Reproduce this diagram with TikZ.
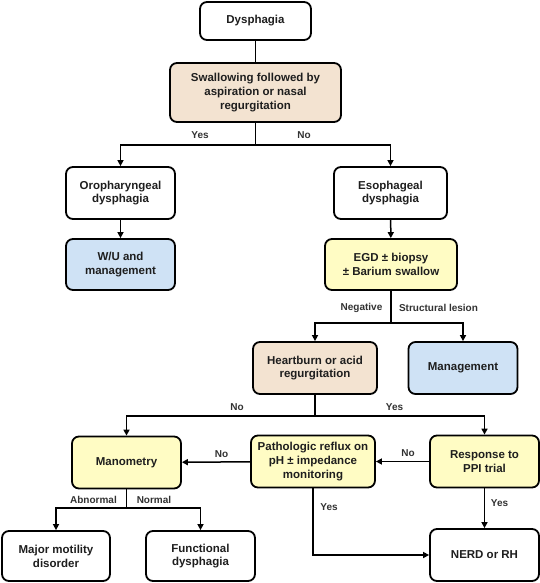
\documentclass[tikz,border=0pt]{standalone}
\usepackage{fontspec}
\setmainfont{Liberation Sans}
\usetikzlibrary{arrows.meta}
\definecolor{beige}{RGB}{243,227,209}
\definecolor{lblue}{RGB}{207,226,245}
\definecolor{lyellow}{RGB}{255,252,196}
\definecolor{txt}{RGB}{30,30,30}
\definecolor{lbl}{RGB}{50,50,50}
\tikzset{
  box/.style={draw=black, line width=1.8pt, rounded corners=7pt, align=center,
    text=txt, inner sep=0pt, font=\bfseries\fontsize{11.5}{13.8}\selectfont},
  conn/.style={line width=1.5pt, draw=black},
  arr/.style={conn, -{Triangle[length=6pt,width=6pt]}},
  lab/.style={text=lbl, inner sep=0pt, font=\bfseries\fontsize{10}{12}\selectfont}
}
\begin{document}
\begin{tikzpicture}[x=1pt,y=-1pt]
\useasboundingbox (0,0) rectangle (540,583);
% nodes
\node[box, fill=white, minimum width=111pt, minimum height=38pt] (dys) at (255.5,21) {Dysphagia};
\node[box, fill=beige, minimum width=171pt, minimum height=59pt] (swal) at (255.5,92.5) {Swallowing followed by\\aspiration or nasal\\regurgitation};
\node[box, fill=white, minimum width=109pt, minimum height=52pt] (oro) at (120.5,193) {Oropharyngeal\\dysphagia};
\node[box, fill=lblue, minimum width=109pt, minimum height=51pt] (wu) at (120.5,264.5) {W/U and\\management};
\node[box, fill=white, minimum width=113pt, minimum height=52pt] (eso) at (390.5,193) {Esophageal\\dysphagia};
\node[box, fill=lyellow, minimum width=132pt, minimum height=51pt] (egd) at (391,264.5) {EGD ± biopsy\\± Barium swallow};
\node[box, fill=beige, minimum width=124pt, minimum height=52pt] (heart) at (315,368) {Heartburn or acid\\regurgitation};
\node[box, fill=lblue, minimum width=109pt, minimum height=52pt] (mgmt) at (463,368) {Management};
\node[box, fill=lyellow, minimum width=109pt, minimum height=52pt] (mano) at (126.5,462.5) {Manometry};
\node[box, fill=lyellow, minimum width=124pt, minimum height=52pt] (path) at (313,461.5) {Pathologic reflux on\\pH ± impedance\\monitoring};
\node[box, fill=lyellow, minimum width=109pt, minimum height=52pt] (resp) at (484.5,461.5) {Response to\\PPI trial};
\node[box, fill=white, minimum width=108pt, minimum height=50pt] (major) at (56,556) {Major motility\\disorder};
\node[box, fill=white, minimum width=109pt, minimum height=50pt] (func) at (200.5,556) {Functional\\dysphagia};
\node[box, fill=white, minimum width=109pt, minimum height=52pt] (nerd) at (484.5,555) {NERD or RH};
% junctions
\coordinate (j1) at (255.5,145);
\coordinate (j2) at (391,323);
\coordinate (j3) at (315,416);
\coordinate (j4) at (126.5,508);
% connectors
\draw[conn] (dys) -- (swal);
\draw[conn] (swal) -- (j1);
\draw[arr] (j1) -| (oro);
\draw[arr] (j1) -| (eso);
\draw[arr] (oro) -- (wu);
\draw[arr] (eso) -- (egd);
\draw[conn] (egd) -- (j2);
\draw[arr] (j2) -| (heart);
\draw[arr] (j2) -| (mgmt);
\draw[conn] (heart) -- (j3);
\draw[arr] (j3) -| (mano);
\draw[arr] (j3) -| (resp);
\draw[arr] (resp) -- (path);
\draw[arr] (path) -- (mano);
\draw[conn] (mano) -- (j4);
\draw[arr] (j4) -| (major);
\draw[arr] (j4) -| (func);
\draw[arr] (resp) -- (nerd);
\draw[arr] (path.south) |- (nerd.west);
% labels
\node[lab] (l1) at (200,135) {Yes};
\node[lab] (l2) at (304,135) {No};
\node[lab] (l3) at (361.5,308) {Negative};
\node[lab] (l4) at (438.5,308) {Structural lesion};
\node[lab] (l5) at (237,407) {No};
\node[lab] (l6) at (394.5,407) {Yes};
\node[lab] (l7) at (221.5,454) {No};
\node[lab] (l8) at (408,453) {No};
\node[lab] (l9) at (93.5,500) {Abnormal};
\node[lab] (l10) at (154,500) {Normal};
\node[lab] (l11) at (329,507) {Yes};
\node[lab] (l12) at (499.5,503) {Yes};
\end{tikzpicture}
\end{document}
